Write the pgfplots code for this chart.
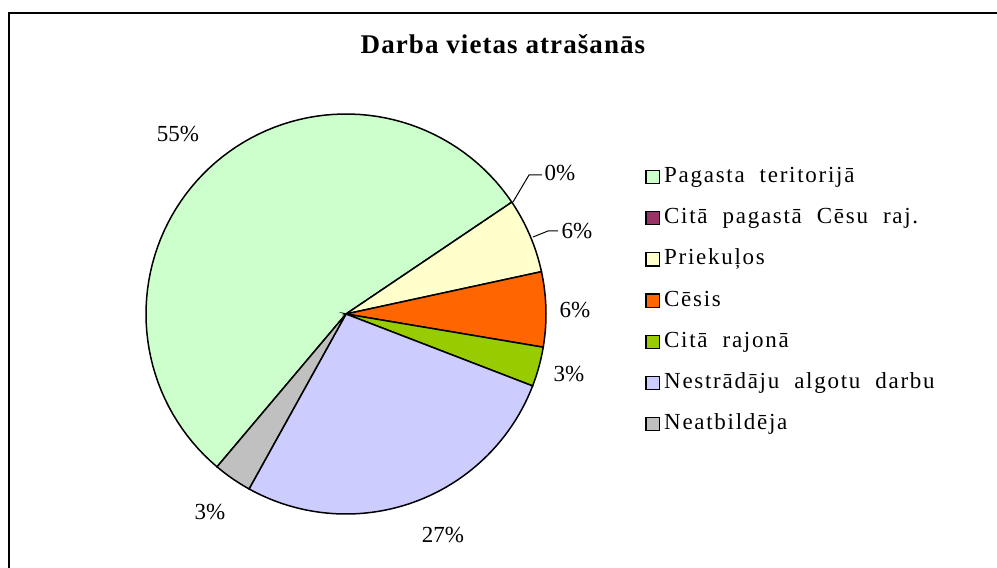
\documentclass[border=0pt]{standalone}
\usepackage{fontspec}
\setmainfont{Liberation Serif}
\newfontfamily\lgdfont[LetterSpace=7.5,WordSpace=2]{Liberation Serif}
\usepackage{pgfplots}
\pgfplotsset{compat=1.18}
\definecolor{cPag}{HTML}{CCFFCC}
\definecolor{cCit}{HTML}{993366}
\definecolor{cPri}{HTML}{FFFFCC}
\definecolor{cCes}{HTML}{FF6600}
\definecolor{cRaj}{HTML}{99CC00}
\definecolor{cNes}{HTML}{CCCCFF}
\definecolor{cNea}{HTML}{C0C0C0}
% shares in percent, clockwise order from the start angle
\def\vCit{0}
\def\vPri{6.05}
\def\vCes{6.05}
\def\vRaj{3.2}
\def\vNes{27.2}
\def\vNea{3.1}
\def\vPag{54.4}
\pgfmathsetmacro{\aA}{34}
\pgfmathsetmacro{\aB}{\aA-3.6*\vCit}
\pgfmathsetmacro{\aC}{\aB-3.6*\vPri}
\pgfmathsetmacro{\aD}{\aC-3.6*\vCes}
\pgfmathsetmacro{\aE}{\aD-3.6*\vRaj}
\pgfmathsetmacro{\aF}{\aE-3.6*\vNes}
\pgfmathsetmacro{\aG}{\aF-3.6*\vNea}
\pgfmathsetmacro{\aH}{\aG-3.6*\vPag}
\newcommand{\lbl}{\fontsize{11.5}{13}\selectfont}
\newcommand{\lgd}{\lgdfont\fontsize{11.5}{13}\selectfont}
\begin{document}
\begin{tikzpicture}
\begin{axis}[name=ax,
  scale only axis, width=498.5pt, height=284pt,
  xmin=0, xmax=997, ymin=0, ymax=568,
  hide axis, clip=false,
  legend style={at={(645/997,402/568)}, anchor=north west, draw=none, fill=none,
    font=\lgd, row sep=10.1pt, inner xsep=0pt, inner ysep=0pt,
    nodes={text height=8pt, text depth=2.5pt, inner ysep=0pt, inner xsep=2.2pt}},
  legend cell align=left,
  legend image code/.code={\draw[#1,draw=black,line width=0.6pt] (0pt,-3.3pt) rectangle (6.6pt,3.3pt);},
]
\addlegendimage{fill=cPag}\addlegendentry{Pagasta teritorijā}
\addlegendimage{fill=cCit}\addlegendentry{Citā pagastā Cēsu raj.}
\addlegendimage{fill=cPri}\addlegendentry{Priekuļos}
\addlegendimage{fill=cCes}\addlegendentry{Cēsis}
\addlegendimage{fill=cRaj}\addlegendentry{Citā rajonā}
\addlegendimage{fill=cNes}\addlegendentry{Nestrādāju algotu darbu}
\addlegendimage{fill=cNea}\addlegendentry{Neatbildēja}

\pgfplotsset{every axis plot/.append style={draw=black, line width=0.75pt, samples=80, variable=\t, forget plot}}
\addplot[fill=cPag, domain=\aH:\aG] ({346+200*cos(\t)},{254+200*sin(\t)}) -- (axis cs:346,254) -- cycle;
\addplot[fill=cPri, domain=\aC:\aB] ({346+200*cos(\t)},{254+200*sin(\t)}) -- (axis cs:346,254) -- cycle;
\addplot[fill=cCes, domain=\aD:\aC] ({346+200*cos(\t)},{254+200*sin(\t)}) -- (axis cs:346,254) -- cycle;
\addplot[fill=cRaj, domain=\aE:\aD] ({346+200*cos(\t)},{254+200*sin(\t)}) -- (axis cs:346,254) -- cycle;
\addplot[fill=cNes, domain=\aF:\aE] ({346+200*cos(\t)},{254+200*sin(\t)}) -- (axis cs:346,254) -- cycle;
\addplot[fill=cNea, domain=\aG:\aF] ({346+200*cos(\t)},{254+200*sin(\t)}) -- (axis cs:346,254) -- cycle;

% leader lines
\draw[line width=0.5pt] (axis cs:513,366) -- (axis cs:529,393) -- (axis cs:542,393);
\draw[line width=0.5pt] (axis cs:533,331) -- (axis cs:548,337) -- (axis cs:558,337);

% data labels
\node[font=\lbl] at (axis cs:178,434) {55\%};
\node[font=\lbl] at (axis cs:560,395) {0\%};
\node[font=\lbl] at (axis cs:577,337) {6\%};
\node[font=\lbl] at (axis cs:575,258) {6\%};
\node[font=\lbl] at (axis cs:569,194) {3\%};
\node[font=\lbl] at (axis cs:443,33) {27\%};
\node[font=\lbl] at (axis cs:210,56) {3\%};

% title
\node[font=\bfseries\fontsize{13.5}{15}\selectfont\addfontfeature{LetterSpace=4}] at (axis cs:503,524) {Darba vietas atrašanās};

% chart frame
\draw[line width=1pt] (axis cs:9,0) -- (axis cs:9,555) -- (axis cs:997,555);
\end{axis}
\pgfresetboundingbox
\path (ax.south west) rectangle (ax.north east);
\end{tikzpicture}
\end{document}
